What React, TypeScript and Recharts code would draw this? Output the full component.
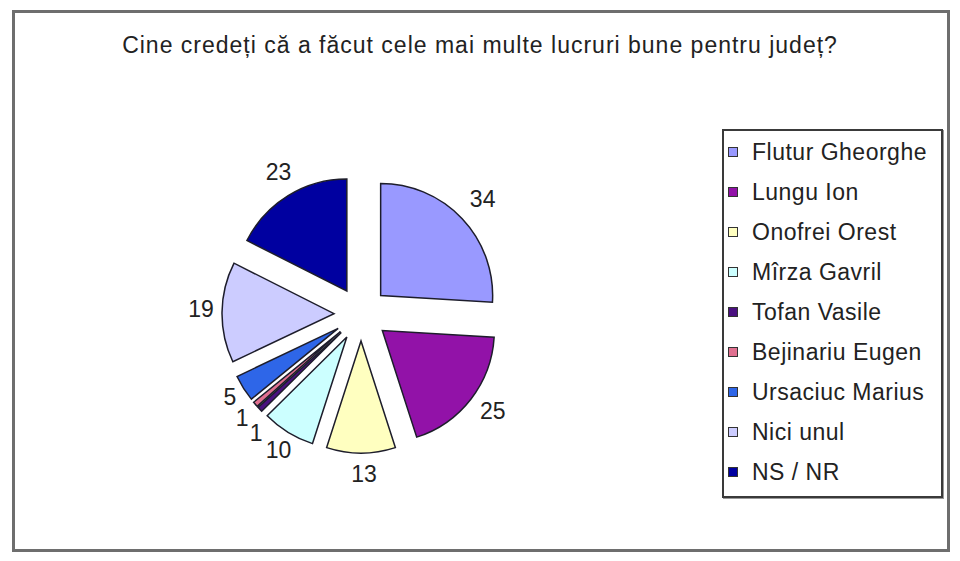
import React from 'react';
import { PieChart, Pie, Cell, Sector, Legend } from 'recharts';

const title = 'Cine credeți că a făcut cele mai multe lucruri bune pentru județ?';
const names = [
  'Flutur Gheorghe',
  'Lungu Ion',
  'Onofrei Orest',
  'Mîrza Gavril',
  'Tofan Vasile',
  'Bejinariu Eugen',
  'Ursaciuc Marius',
  'Nici unul',
  'NS / NR',
];
const values = [34, 25, 13, 10, 1, 1, 5, 19, 23];
const colors = ['#9999FF', '#9212A8', '#FFFFC0', '#CCFFFF', '#4A1080', '#E07090', '#2E66E8', '#CCCCFF', '#0000A0'];

const data = names.map((name, i) => ({ name, value: values[i] }));

const FONT = '"Liberation Sans", Arial, sans-serif';
const EXPLODE = 27;
const RADIUS = 112;
const RAD = Math.PI / 180;

const renderSector = (props: any) => {
  const { cx, cy, midAngle, innerRadius, outerRadius, startAngle, endAngle, fill } = props;
  const dx = EXPLODE * Math.cos(-midAngle * RAD);
  const dy = EXPLODE * Math.sin(-midAngle * RAD);
  return (
    <Sector
      cx={cx + dx}
      cy={cy + dy}
      innerRadius={innerRadius}
      outerRadius={outerRadius}
      startAngle={startAngle}
      endAngle={endAngle}
      fill={fill}
      stroke="#1d1d2b"
      strokeWidth={1.5}
    />
  );
};

const renderLabel = (props: any) => {
  const { cx, cy, midAngle, outerRadius, percent, index, value } = props;
  const tiny = percent < 0.02;
  const small = percent < 0.045;
  const r = EXPLODE + outerRadius + (tiny ? 19 : small ? 16 : 24);
  const ux = Math.cos(-midAngle * RAD);
  const uy = Math.sin(-midAngle * RAD);
  const tx = -Math.sin(midAngle * RAD);
  const ty = -Math.cos(midAngle * RAD);
  const nudge = tiny ? (index % 2 === 0 ? 15 : 2) : 0;
  const shiftX = small ? 0 : 3;
  const shiftY = small ? 0 : -3;
  const x = cx + r * ux + nudge * tx + shiftX;
  const y = cy + r * uy + nudge * ty + shiftY;
  return (
    <text
      x={x}
      y={y}
      textAnchor="middle"
      dominantBaseline="central"
      fontSize={23}
      fontFamily={FONT}
      fill="#222"
    >
      {value}
    </text>
  );
};

const renderLegend = () => (
  <div
    style={{
      boxSizing: 'border-box',
      width: 221,
      height: 369,
      border: '2px solid #3a3a3a',
      boxShadow: '1px 1px 0 #999',
      paddingTop: 1,
      background: '#fff',
      fontFamily: FONT,
    }}
  >
    {names.map((n, i) => (
      <div key={n} style={{ display: 'flex', alignItems: 'center', height: 40 }}>
        <span
          style={{
            display: 'inline-block',
            boxSizing: 'border-box',
            width: 10,
            height: 10,
            marginLeft: 4,
            marginRight: 14,
            background: colors[i],
            border: '1px solid #333',
          }}
        />
        <span style={{ fontSize: 23, letterSpacing: 0.5, color: '#222', whiteSpace: 'nowrap' }}>{n}</span>
      </div>
    ))}
  </div>
);

export default function App() {
  return (
    <div style={{ position: 'relative', width: 944, height: 545, fontFamily: FONT, background: '#fff' }}>
      <div
        style={{
          position: 'absolute',
          left: 4,
          top: 2,
          width: 938,
          height: 542,
          boxSizing: 'border-box',
          border: '3px solid #6e6e6e',
        }}
      />
      <div
        style={{
          position: 'absolute',
          left: 0,
          top: 24,
          width: 944,
          textAlign: 'center',
          fontSize: 23,
          lineHeight: '26px',
          letterSpacing: 1,
          color: '#222',
        }}
      >
        {title}
      </div>
      <div style={{ position: 'absolute', left: 0, top: 0 }}>
        <PieChart width={944} height={545}>
          <Pie
            data={data}
            dataKey="value"
            nameKey="name"
            cx={348}
            cy={301}
            outerRadius={RADIUS}
            startAngle={90}
            endAngle={-270}
            shape={renderSector}
            label={renderLabel}
            labelLine={false}
            isAnimationActive={false}
            stroke="#1d1d2b"
            strokeWidth={1.5}
          >
            {data.map((d, i) => (
              <Cell key={d.name} fill={colors[i]} />
            ))}
          </Pie>
          <Legend
            content={renderLegend}
            wrapperStyle={{ left: 714, top: 121, width: 221, height: 369 }}
          />
        </PieChart>
      </div>
    </div>
  );
}
